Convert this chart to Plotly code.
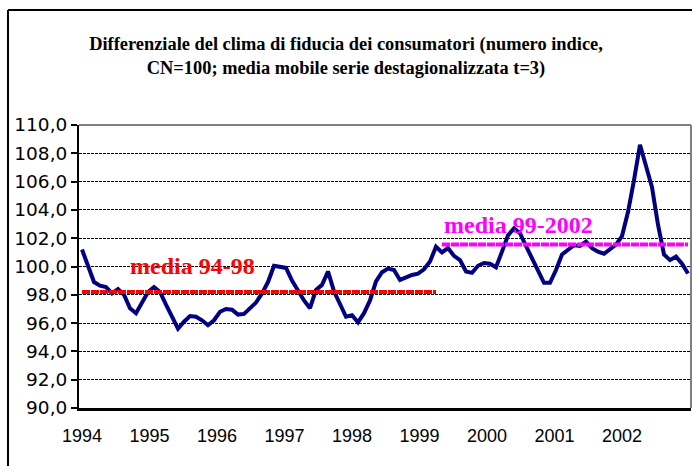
import plotly.graph_objects as go

# ---------------- data ----------------
year_labels = ["1994", "1995", "1996", "1997", "1998", "1999", "2000", "2001", "2002"]

# monthly index values, Jan 1994 .. Jun 2002 (moving average, CN=100)
values = [
    101.2, 100.0, 98.9, 98.65, 98.55, 98.1, 98.4, 98.0, 97.05, 96.7, 97.5, 98.2,   # 1994
    98.55, 98.2, 97.3, 96.4, 95.6, 96.1, 96.5, 96.45, 96.2, 95.85, 96.2, 96.8,     # 1995
    97.0, 96.95, 96.6, 96.65, 97.1, 97.45, 98.1, 98.9, 100.05, 100.0, 99.9, 99.0,  # 1996
    98.25, 97.6, 97.05, 98.35, 98.7, 99.65, 98.25, 97.3, 96.45, 96.55, 96.05, 96.7,  # 1997
    97.6, 98.95, 99.6, 99.85, 99.75, 99.05, 99.25, 99.4, 99.5, 99.8, 100.35, 101.4,  # 1998
    101.0, 101.3, 100.75, 100.45, 99.65, 99.55, 100.05, 100.25, 100.2, 99.95, 101.05, 102.2,  # 1999
    102.7, 102.35, 101.45, 100.6, 99.65, 98.85, 98.85, 99.75, 100.85, 101.2, 101.5, 101.45,  # 2000
    101.75, 101.3, 101.05, 100.9, 101.25, 101.55, 102.15, 103.85, 106.1, 108.6, 107.1, 105.6,  # 2001
    102.95, 100.85, 100.45, 100.7, 100.2, 99.5,                                      # 2002
]

media_94_98 = 98.2
media_99_02 = 101.55
n_first = 60  # months 1994-1998

media_labels = ["media 94-98", "media 99-2002"]

# ---------------- figure ----------------
W, H = 692, 466
L, R, T, B = 79, 1, 125, 58
pw, ph = W - L - R, H - T - B


def px_x(px):
    return (px - L) / pw


def px_y(py):
    return (H - B - py) / ph


x = list(range(len(values)))
fig = go.Figure()
fig.add_trace(go.Scatter(x=x, y=values, mode="lines",
                         line=dict(color="#000080", width=4), hoverinfo="skip"))
fig.add_trace(go.Scatter(x=[0, n_first - 1], y=[media_94_98, media_94_98], mode="lines",
                         line=dict(color="#FF0000", width=4, dash="8px,1px"), hoverinfo="skip"))
fig.add_trace(go.Scatter(x=[n_first, len(values) - 1], y=[media_99_02, media_99_02], mode="lines",
                         line=dict(color="#FF00FF", width=4, dash="8px,1px"), hoverinfo="skip"))

tick_step = 11.25
tick_pos = [k * tick_step for k in range(len(year_labels))]

fig.update_layout(
    width=W, height=H,
    margin=dict(l=L, r=R, t=T, b=B, pad=0),
    paper_bgcolor="white", plot_bgcolor="white",
    showlegend=False,
    separators=",.",
    title=dict(
        text="<b>Differenziale del clima di fiducia dei consumatori (numero indice,<br>"
             "CN=100; media mobile serie destagionalizzata t=3)</b>",
        x=346 / W, xanchor="center", xref="container",
        y=1 - 50 / H, yanchor="top", yref="container",
        font=dict(family="Liberation Serif", size=18.4, color="black"),
    ),
    xaxis=dict(
        range=[-0.5, len(values) - 0.5],
        tickvals=tick_pos, ticktext=year_labels,
        showline=True, linecolor="black", linewidth=3,
        ticks="", showgrid=False, zeroline=False,
        tickfont=dict(family="Liberation Sans", size=18, color="black"),
        ticklabelstandoff=9,
    ),
    yaxis=dict(
        range=[90, 110], dtick=2, tick0=90, tickformat=".1f",
        showline=True, linecolor="black", linewidth=2,
        ticks="outside", ticklen=6, tickcolor="black", tickwidth=1.5,
        showgrid=True, gridcolor="black", gridwidth=1, griddash="3px,1px",
        zeroline=False,
        tickfont=dict(family="DejaVu Sans", size=18.5, color="black"),
    ),
    annotations=[
        dict(x=18.4, y=100.05, xref="x", yref="y", text="<b>" + media_labels[0] + "</b>",
             showarrow=False, font=dict(family="Liberation Serif", size=24, color="#FF0000")),
        dict(x=72.8, y=102.93, xref="x", yref="y", text="<b>" + media_labels[1] + "</b>",
             showarrow=False, font=dict(family="Liberation Serif", size=24, color="#FF00FF")),
    ],
    shapes=[
        # grey plot-area border top & right
        dict(type="line", xref="paper", yref="paper", x0=0, x1=1, y0=1, y1=1,
             line=dict(color="#808080", width=2), layer="above"),
        dict(type="line", xref="paper", yref="paper", x0=1, x1=1, y0=0, y1=1,
             line=dict(color="#808080", width=2), layer="above"),
        # outer chart frame
        dict(type="line", xref="paper", yref="paper", x0=px_x(8), x1=px_x(8),
             y0=px_y(10), y1=px_y(H + 10), line=dict(color="black", width=2)),
        dict(type="line", xref="paper", yref="paper", x0=px_x(8), x1=px_x(W + 10),
             y0=px_y(10), y1=px_y(10), line=dict(color="black", width=2)),
    ],
)

fig.write_html("out.html", config={"displayModeBar": False},
               post_script="document.body.style.margin='0';")
